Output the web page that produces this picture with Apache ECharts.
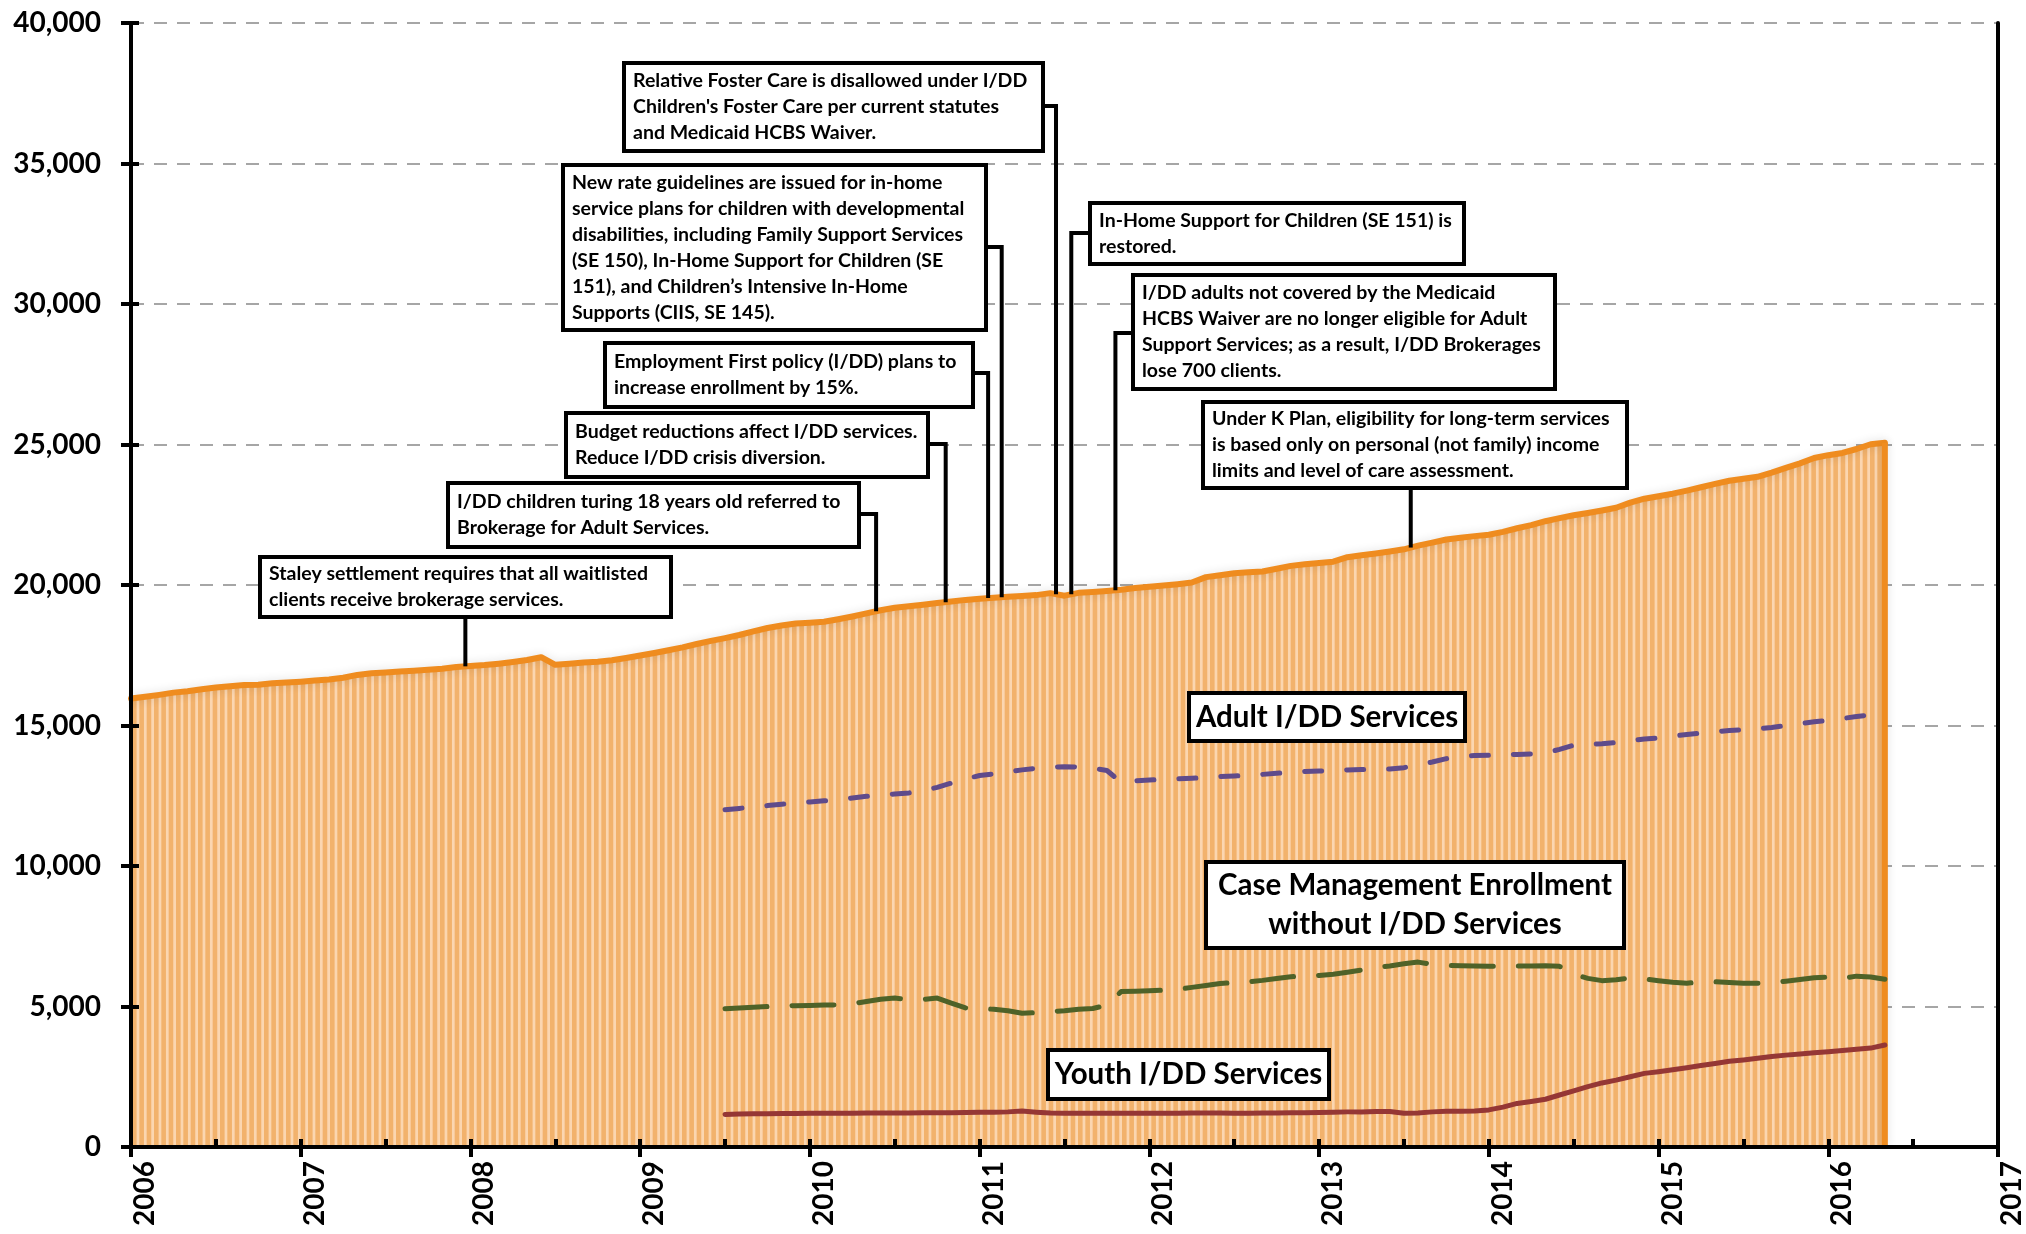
<!DOCTYPE html>
<html><head><meta charset="utf-8">
<script src="https://cdn.jsdelivr.net/npm/echarts@6/dist/echarts.min.js"></script>
<style>html,body{margin:0;padding:0;background:#fff}#c{width:2026px;height:1234px}</style>
</head><body><div id="c"></div>
<script>
// ---------------- DATA ----------------
const yearTicks = [2006, 2007, 2008, 2009, 2010, 2011, 2012, 2013, 2014, 2015, 2016, 2017];
const yTicks = [0, 5000, 10000, 15000, 20000, 25000, 30000, 35000, 40000];

// Total I/DD enrollment, monthly from Jan 2006 to May 2016
const totalStart = 2006;
const totalEnrollment = [
  15960, 16020, 16090, 16170, 16220, 16290, 16350, 16400, 16440, 16450, 16500, 16530,
  16560, 16600, 16640, 16700, 16800, 16860, 16890, 16920, 16950, 16980, 17020, 17080,
  17120, 17150, 17200, 17260, 17330, 17430, 17160, 17200, 17240, 17270, 17320, 17400,
  17490, 17580, 17680, 17780, 17900, 18010, 18110, 18220, 18350, 18470, 18560, 18630,
  18660, 18690, 18780, 18880, 18990, 19100, 19190, 19240, 19300, 19360, 19410, 19470,
  19510, 19550, 19580, 19610, 19640, 19710, 19620, 19720, 19750, 19790, 19830, 19890,
  19940, 19980, 20030, 20090, 20280, 20350, 20420, 20450, 20480, 20580, 20680, 20740,
  20780, 20830, 20990, 21060, 21120, 21190, 21270, 21400, 21510, 21620, 21680, 21740,
  21790, 21890, 22020, 22130, 22270, 22380, 22480, 22560, 22650, 22750, 22930, 23070,
  23160, 23250, 23360, 23480, 23600, 23710, 23780, 23850, 24000, 24170, 24330, 24520,
  24620, 24700, 24840, 25010, 25060
];

// Component series, monthly from Jul 2009 to May 2016
const seriesStart = 2009.5;
const adultIDD = [
  12000, 12050, 12100, 12150, 12200, 12250,
  12280, 12320, 12360, 12420, 12480, 12530, 12560, 12600, 12680, 12800, 12950, 13100,
  13220, 13280, 13350, 13420, 13480, 13520, 13530, 13520, 13480, 13400, 12980, 13030,
  13060, 13080, 13100, 13120, 13150, 13180, 13200, 13230, 13260, 13300, 13330, 13360,
  13380, 13400, 13420, 13430, 13440, 13450, 13500, 13600, 13700, 13820, 13900, 13930,
  13940, 13950, 13970, 13990, 14020, 14150, 14300, 14320, 14350, 14400, 14460, 14520,
  14560, 14620, 14680, 14730, 14780, 14820, 14850, 14880, 14930, 15000, 15070, 15130,
  15180, 15250, 15320, 15380, 15420
];
const caseMgmt = [
  4920, 4950, 4970, 5000, 5020, 5030,
  5040, 5050, 5060, 5100, 5180, 5260, 5300, 5240, 5250, 5300, 5120, 4950,
  4930, 4900, 4850, 4760, 4780, 4820, 4850, 4900, 4930, 5050, 5530, 5540,
  5560, 5580, 5610, 5680, 5750, 5820, 5850, 5880, 5930, 6000, 6060, 6080,
  6100, 6150, 6220, 6300, 6400, 6440, 6520, 6580, 6500, 6460, 6450, 6440,
  6430, 6430, 6440, 6440, 6450, 6430, 6150, 6000, 5920, 5950, 6020, 5980,
  5920, 5860, 5830, 5870, 5880, 5850, 5830, 5830, 5850, 5900, 5960, 6020,
  6050, 6000, 6080, 6050, 5970
];
const youthIDD = [
  1160, 1170, 1180, 1180, 1190, 1190,
  1200, 1200, 1200, 1200, 1210, 1210, 1210, 1210, 1220, 1220, 1220, 1230,
  1240, 1240, 1250, 1280, 1240, 1210, 1200, 1200, 1200, 1200, 1200, 1200,
  1200, 1200, 1200, 1210, 1210, 1210, 1200, 1200, 1210, 1210, 1220, 1220,
  1230, 1240, 1250, 1250, 1260, 1260, 1200, 1210, 1250, 1270, 1270, 1280,
  1320, 1420, 1550, 1620, 1700, 1850, 2000, 2150, 2280, 2380, 2500, 2620,
  2680, 2750, 2820, 2900, 2970, 3050, 3100, 3160, 3220, 3270, 3310, 3350,
  3390, 3430, 3480, 3520, 3630
];

// Event dates (fractional year) and callout texts
const eventDates = [2007.97, 2010.39, 2010.80, 2011.05, 2011.13, 2011.45, 2011.54, 2011.80, 2013.54];
const eventTexts = [
  ["Staley settlement requires that all waitlisted", "clients receive brokerage services."],
  ["I/DD children turing 18 years old referred to", "Brokerage for Adult Services."],
  ["Budget reductions affect I/DD services.", "Reduce I/DD crisis diversion."],
  ["Employment First policy (I/DD) plans to", "increase enrollment by 15%."],
  ["New rate guidelines are issued for in-home", "service plans for children with developmental", "disabilities, including Family Support Services", "(SE 150), In-Home Support for Children (SE", "151), and Children\u2019s Intensive In-Home", "Supports (CIIS, SE 145)."],
  ["Relative Foster Care is disallowed under I/DD", "Children's Foster Care per current statutes", "and Medicaid HCBS Waiver."],
  ["In-Home Support for Children (SE 151) is", "restored."],
  ["I/DD adults not covered by the Medicaid", "HCBS Waiver are no longer eligible for Adult", "Support Services; as a result, I/DD Brokerages", "lose 700 clients."],
  ["Under K Plan, eligibility for long-term services", "is based only on personal (not family) income", "limits and level of care assessment."]
];
const seriesLabels = [
  ["Adult I/DD Services"],
  ["Case Management Enrollment", "without I/DD Services"],
  ["Youth I/DD Services"]
];

// ---------------- LAYOUT (pixels) ----------------
const calloutBoxes = [
  {x: 260, y: 557, w: 411, h: 60, side: 'bottom'},
  {x: 448, y: 483, w: 411, h: 64, side: 'right', stubY: 514},
  {x: 566, y: 413, w: 362, h: 64, side: 'right', stubY: 444},
  {x: 605, y: 343, w: 368, h: 64, side: 'right', stubY: 373},
  {x: 563, y: 165, w: 423, h: 165, side: 'right', stubY: 247},
  {x: 624, y: 63, w: 419, h: 88, side: 'right', stubY: 106},
  {x: 1090, y: 203, w: 374, h: 61, side: 'left', stubY: 233},
  {x: 1133, y: 275, w: 422, h: 114, side: 'left', stubY: 333},
  {x: 1203, y: 402, w: 424, h: 86, side: 'bottom'}
];
const labelBoxes = [
  {x: 1189, y: 693, w: 276, h: 48},
  {x: 1206, y: 862, w: 418, h: 86},
  {x: 1048, y: 1050, w: 281, h: 49}
];
const calloutFont = 'bold 19.5px Lato';
const labelFont = 'bold 29.5px Lato';

// ---------------- BUILD ----------------
const totalPts = totalEnrollment.map((v, i) => [totalStart + i / 12, v]);
const mk = arr => arr.map((v, i) => [seriesStart + i / 12, v]);
const lastTotal = totalPts[totalPts.length - 1];

function stripePattern() {
  const c = document.createElement('canvas');
  c.width = 22; c.height = 4;
  const g = c.getContext('2d');
  g.fillStyle = '#FBD6B0'; g.fillRect(0, 0, 22, 4);
  g.fillStyle = '#F2B26C';
  for (let i = 0; i < 3; i++) g.fillRect(i * 22 / 3, 0, 4.6, 4);
  return c;
}

const chart = echarts.init(document.getElementById('c'));
const axisFont = {fontFamily: 'Lato', fontWeight: 'bold', fontSize: 28, color: '#000'};
const xMin = yearTicks[0], xMax = yearTicks[yearTicks.length - 1];
const yMin = yTicks[0], yMax = yTicks[yTicks.length - 1];
const blackLine = {show: true, lineStyle: {color: '#000', width: 4}};
const noLabel = {show: false};
const noSplit = {show: false};

chart.setOption({
  animation: false,
  backgroundColor: '#fff',
  grid: {left: 131, right: 22, top: 23, bottom: 87, containLabel: false, show: false},
  xAxis: [
    {type: 'value', min: xMin, max: xMax, interval: 1, position: 'bottom', z: 10,
     axisLine: blackLine,
     axisTick: {length: 10, lineStyle: {color: '#000', width: 4}},
     splitLine: noSplit,
     axisLabel: Object.assign({rotate: 90, margin: 14, verticalAlign: 'top', formatter: v => String(v)}, axisFont)},
    {type: 'value', min: xMin, max: xMax, interval: 0.5, position: 'bottom', z: 10,
     axisLine: {show: false}, axisTick: {inside: true, length: 8, lineStyle: {color: '#000', width: 4}},
     axisLabel: noLabel, splitLine: noSplit},
    {type: 'value', min: xMin, max: xMax, position: 'top', z: 10,
     axisLine: blackLine, axisTick: {show: false}, axisLabel: noLabel, splitLine: noSplit}
  ],
  yAxis: [
    {type: 'value', min: yMin, max: yMax, interval: 5000, position: 'left', z: 0,
     axisLine: {show: false}, axisTick: {show: false},
     splitLine: {show: true, lineStyle: {color: '#A6A6A6', width: 2, type: [13, 10]}},
     axisLabel: Object.assign({margin: 30, formatter: v => v.toLocaleString('en-US')}, axisFont)},
    {type: 'value', min: yMin, max: yMax, interval: 5000, position: 'left', z: 10,
     axisLine: blackLine, axisTick: {show: true, length: 10, lineStyle: {color: '#000', width: 4}},
     axisLabel: noLabel, splitLine: noSplit},
    {type: 'value', min: yMin, max: yMax, interval: 5000, position: 'left', z: 10,
     axisLine: {show: false}, axisTick: {show: true, inside: true, length: 8, lineStyle: {color: '#000', width: 4}},
     axisLabel: noLabel, splitLine: noSplit},
    {type: 'value', min: yMin, max: yMax, interval: 5000, position: 'right', z: 10,
     axisLine: blackLine, axisTick: {show: false}, axisLabel: noLabel, splitLine: noSplit}
  ],
  series: [
    {name: 'Total', type: 'line', data: totalPts, showSymbol: false, z: 2,
     lineStyle: {color: '#EF8C1F', width: 6, cap: 'round', join: 'round', shadowColor: 'rgba(0,0,0,0.12)', shadowBlur: 10},
     areaStyle: {color: {image: stripePattern(), repeat: 'repeat'}, opacity: 1}},
    {name: 'TotalEdge', type: 'line', data: [lastTotal, [lastTotal[0], 0]], showSymbol: false, z: 2,
     lineStyle: {color: '#EF8C1F', width: 6, shadowColor: 'rgba(0,0,0,0.12)', shadowBlur: 10}},
    {name: 'Adult I/DD Services', type: 'line', data: mk(adultIDD), showSymbol: false, z: 3,
     lineStyle: {color: '#5F4B8B', width: 5, type: [17, 25], cap: 'round', join: 'round'}},
    {name: 'Case Management Enrollment without I/DD Services', type: 'line', data: mk(caseMgmt), showSymbol: false, z: 3,
     lineStyle: {color: '#4F6228', width: 5, type: [42, 25], cap: 'round', join: 'round'}},
    {name: 'Youth I/DD Services', type: 'line', data: mk(youthIDD), showSymbol: false, z: 3,
     lineStyle: {color: '#953735', width: 5, cap: 'round', join: 'round'}}
  ]
});

// ---------------- ANNOTATIONS ----------------
function totalAt(date) {
  const f = (date - totalStart) * 12;
  const i = Math.max(0, Math.min(totalEnrollment.length - 2, Math.floor(f)));
  const t = f - i;
  return totalEnrollment[i] * (1 - t) + totalEnrollment[i + 1] * t;
}
const graphics = [];
eventDates.forEach((d, k) => {
  const b = calloutBoxes[k];
  const p = chart.convertToPixel({xAxisIndex: 0, yAxisIndex: 0}, [d, totalAt(d)]);
  let pts;
  if (b.side === 'bottom') pts = [[p[0], b.y + b.h], [p[0], p[1]]];
  else if (b.side === 'right') pts = [[b.x + b.w, b.stubY], [p[0], b.stubY], [p[0], p[1]]];
  else pts = [[b.x, b.stubY], [p[0], b.stubY], [p[0], p[1]]];
  graphics.push({type: 'polyline', z: 10, shape: {points: pts}, style: {stroke: '#000', lineWidth: 4, fill: null, lineJoin: 'miter'}});
});
eventDates.forEach((d, k) => {
  const b = calloutBoxes[k];
  graphics.push({type: 'rect', z: 11, shape: {x: b.x, y: b.y, width: b.w, height: b.h},
    style: {fill: '#fff', stroke: '#000', lineWidth: 4}});
  const lines = eventTexts[k];
  const lh = 26;
  const top = b.y + (b.h - lh * lines.length) / 2;
  graphics.push({type: 'text', z: 12, x: b.x + 9, y: top,
    style: {text: lines.join('\n'), font: calloutFont, fill: '#000', lineHeight: lh, align: 'left', verticalAlign: 'top'}});
});
seriesLabels.forEach((lines, k) => {
  const b = labelBoxes[k];
  graphics.push({type: 'rect', z: 11, shape: {x: b.x, y: b.y, width: b.w, height: b.h},
    style: {fill: '#fff', stroke: '#000', lineWidth: 4}});
  graphics.push({type: 'text', z: 12, x: b.x + b.w / 2, y: b.y + b.h / 2,
    style: {text: lines.join('\n'), font: labelFont, fill: '#000', lineHeight: 39, align: 'center', verticalAlign: 'middle'}});
});
chart.setOption({graphic: graphics});
</script>
</body></html>
